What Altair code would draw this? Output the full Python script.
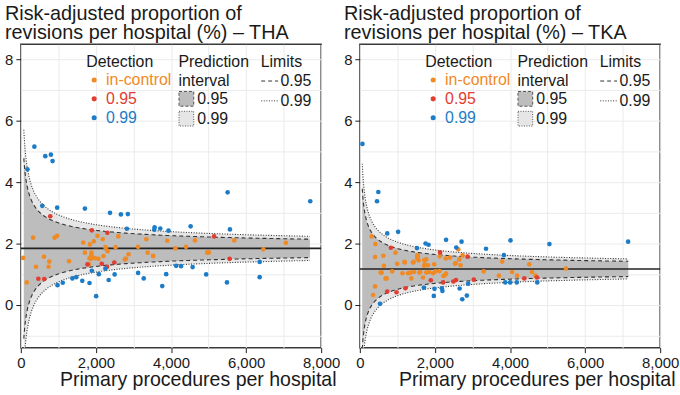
import altair as alt
import numpy as np
import pandas as pd

FONT = "Liberation Sans"
TEXT = "#1a1a1a"
ORANGE = "#F08A24"
RED = "#E23D2F"
BLUE = "#1C7CC7"
DARK_BAND = "#BDBDBD"
LIGHT_BAND = "#E6E6E6"

Y_MIN, Y_MAX = -1.4, 8.5
X_MAX = 8000

# ---------------- THA ----------------
tha_title = ["Risk-adjusted proportion of", "revisions per hospital (%) \u2013 THA"]
tha_center = 1.84
tha_n_span = (80, 7700)

tha_inctrl_n = [326, 898, 968, 1663, 1839, 1945, 2042, 2182, 2596, 3344, 3899, 4638,
                5685, 7058, 2253, 2525, 3124, 4118, 4400, 6460, 2297, 1707, 1883, 616,
                62, 1866, 2068, 2869, 3379, 3529, 4963, 5010, 2798, 158, 404, 757, 739,
                1285, 1830, 1901, 1980, 1813, 2315, 2772, 3520, 2200, 1874]
tha_inctrl_y = [2.19, 2.19, 2.25, 2.03, 1.97, 2.07, 2.25, 2.14, 2.23, 2.14, 2.09, 2.10,
                2.10, 2.02, 1.88, 1.88, 1.89, 1.84, 1.89, 1.81, 1.77, 1.70, 1.70, 1.57,
                1.53, 1.50, 1.50, 1.65, 1.70, 1.59, 1.70, 1.71, 1.51, 0.73, 1.24, 1.41, 1.24,
                1.42, 1.52, 1.57, 1.52, 1.32, 1.75, 1.48, 1.60, 1.59, 1.59]

tha_d95_n = [784, 1892, 2305, 5148, 5561, 467, 625, 1777, 2156, 2297, 2490]
tha_d95_y = [2.89, 2.43, 2.35, 2.23, 1.50, 0.85, 0.84, 1.32, 1.34, 1.24, 1.38]

tha_d99_n = [177, 361, 652, 801, 845, 572, 968, 1707, 2376, 2666, 2851, 2825, 3564,
             3555, 3714, 3934, 4523, 5509, 5570, 7709,
             977, 1117, 1373, 1478, 1637, 1830, 1892, 2006, 2077, 2253, 2341, 2499,
             3124, 3274, 3767, 3872, 4136, 4268, 4576, 4937, 5491, 6362, 6362]
tha_d99_y = [4.42, 5.16, 4.85, 4.90, 4.69, 3.23, 3.17, 3.14, 3.00, 2.95, 2.96, 2.48, 2.53,
             2.45, 2.49, 2.42, 2.56, 3.67, 2.46, 3.38,
             0.64, 0.72, 0.86, 0.90, 0.78, 0.71, 1.11, 0.28, 1.00, 1.18, 0.81, 0.99,
             1.04, 0.86, 0.61, 1.00, 1.27, 1.26, 1.23, 0.99, 0.73, 1.40, 0.90]

# ---------------- TKA ----------------
tka_title = ["Risk-adjusted proportion of", "revisions per hospital (%) \u2013 TKA"]
tka_center = 1.17
tka_n_span = (65, 7150)

tka_inctrl_n = [317, 414, 405, 625, 950, 1549, 2130, 405, 352, 642, 581, 713, 862,
                1135, 1196, 1285, 1373, 1417, 1443, 1540, 1566, 1610, 1716, 1813, 1848,
                1954, 2121, 2226, 2279, 2297, 2402, 2561, 2649, 2684, 3300, 3704, 3793,
                4057, 4189, 4514, 4586, 4681, 5491, 995, 1188, 1434, 1531, 1531, 1980,
                2289, 2534, 2622, 554, 686, 1681, 1355, 1584, 1769, 2015, 1716, 1769,
                1725, 2737]
tka_inctrl_y = [2.23, 1.98, 1.56, 1.60, 1.70, 1.59, 1.58, 0.60, 0.32, 1.27, 1.05, 0.86, 1.09,
                1.03, 1.38, 1.03, 0.86, 1.38, 1.07, 1.56, 1.45, 1.07, 1.27, 1.29, 1.07,
                1.03, 1.10, 0.94, 0.98, 1.02, 1.54, 1.36, 1.48, 1.29, 1.09, 0.95, 1.41,
                1.07, 0.95, 1.32, 1.07, 0.95, 1.18, 1.34, 1.40, 1.40, 1.61, 1.51, 1.32,
                1.51, 1.34, 1.81, 1.05, 0.86, 0.89, 1.05, 1.05, 1.05, 1.09, 1.46, 1.48,
                1.32, 1.61]

tka_d95_n = [827, 2138, 2869, 730, 977, 1214, 1890, 2218, 2490, 2561, 3036, 4382, 4718]
tka_d95_y = [1.86, 1.71, 1.57, 0.43, 0.41, 0.54, 0.80, 0.73, 0.76, 0.81, 0.82, 0.86, 0.89]

tka_d99_n = [70, 493, 458, 730, 1020, 1522, 1751, 1830, 2297, 2569, 2710, 3361, 3837,
             4013, 5051, 7146,
             537, 1707, 1971, 1989, 2183, 2200, 2658, 2728, 2851, 2886, 3872, 4005,
             4180, 4726]
tka_d99_y = [5.25, 3.68, 3.38, 2.33, 2.38, 1.85, 2.00, 1.96, 2.12, 1.87, 2.06, 1.83, 1.62,
             2.10, 1.98, 2.06,
             0.03, 0.56, 0.29, 0.52, 0.54, 0.45, 0.53, 0.18, 0.30, 0.69, 0.73, 0.73,
             0.73, 0.73]

DETECTION = ["in-control", "0.95", "0.99"]
PI_LEVELS = ["0.95", "0.99"]      # prediction interval levels (fill)
LIMIT_LEVELS = [0.95, 0.99]       # control limit levels (line dash)
Z = {0.95: 1.96, 0.99: 2.576}


def funnel(center_pct, n, z):
    p = center_pct / 100.0
    se = np.sqrt(p * (1 - p) / n) * 100.0
    return center_pct - z * se, center_pct + z * se


def panel(title, center, n_span, groups):
    pts = pd.concat(
        [pd.DataFrame({"n": n, "rate": y, "Detection": lab}) for lab, (n, y) in zip(DETECTION, groups)],
        ignore_index=True,
    )
    n_grid = np.geomspace(n_span[0], n_span[1], 240)
    bands, lines = [], []
    for pi_lab, lev in zip(PI_LEVELS, LIMIT_LEVELS):
        lo, hi = funnel(center, n_grid, Z[lev])
        bands.append(pd.DataFrame({"n": n_grid, "lo": lo, "hi": hi, "Prediction interval": pi_lab}))
        lines.append(pd.DataFrame({"n": n_grid, "v": hi, "Limits": lev, "side": "upper"}))
        lines.append(pd.DataFrame({"n": n_grid, "v": lo, "Limits": lev, "side": "lower"}))
    band_df = pd.concat(bands, ignore_index=True)
    line_df = pd.concat(lines, ignore_index=True)

    x_scale = alt.Scale(domain=[0, X_MAX], nice=False, zero=False)
    y_scale = alt.Scale(domain=[Y_MIN, Y_MAX], nice=False, zero=False)
    x_axis = alt.Axis(
        values=list(range(0, X_MAX + 1, 1000)),
        labelExpr="datum.value % 2000 == 0 ? format(datum.value, ',') : ''",
        tickColor=alt.expr("datum.value % 2000 == 0 ? '#1a1a1a' : 'transparent'"),
        labelFlush=False,
        title="Primary procedures per hospital",
        titleX=318, titleY=38, titleAlign="right", titleBaseline="alphabetic",
        titleAnchor="end",
    )
    y_axis = alt.Axis(
        orient="left",
        values=list(range(-1, 9)),
        labelExpr="datum.value % 2 == 0 ? datum.label : ''",
        tickColor=alt.expr("datum.value % 2 == 0 ? '#1a1a1a' : 'transparent'"),
        labels=True, ticks=True, labelOverlap=False,
        title="",
    )

    def X(field):
        return alt.X(field, scale=x_scale, axis=x_axis)

    def Y(field):
        return alt.Y(field, scale=y_scale, axis=y_axis)

    fill_legend = alt.Legend(
        title=["Prediction", "interval"], orient="none", legendX=159, legendY=10,
        symbolType="square", symbolSize=220, symbolStrokeColor="#555",
        symbolStrokeWidth=1, symbolOpacity=1, rowPadding=0,
        symbolDash=alt.expr("datum.label == '0.95' ? [3, 2] : [1, 1.5]"),
        titleLineHeight=19, labelOffset=3,
    )
    band_fill = alt.Fill(
        "Prediction interval:N",
        scale=alt.Scale(domain=PI_LEVELS, range=[DARK_BAND, LIGHT_BAND]),
        legend=fill_legend,
    )
    band99 = (
        alt.Chart(band_df[band_df["Prediction interval"] == "0.99"])
        .mark_area(clip=True, opacity=1, interpolate="monotone")
        .encode(x=X("n:Q"), y=Y("hi:Q"), y2="lo:Q", fill=band_fill)
    )
    band95 = (
        alt.Chart(band_df[band_df["Prediction interval"] == "0.95"])
        .mark_area(clip=True, opacity=1, interpolate="monotone")
        .encode(x=X("n:Q"), y=Y("hi:Q"), y2="lo:Q", fill=band_fill)
    )
    limits = (
        alt.Chart(line_df)
        .mark_line(clip=True, color="#333333", strokeWidth=1.1, interpolate="monotone")
        .encode(
            x=X("n:Q"),
            y=Y("v:Q"),
            detail="side:N",
            strokeDash=alt.StrokeDash(
                "Limits:O",
                scale=alt.Scale(domain=LIMIT_LEVELS, range=[[4, 3], [1, 1.6]]),
                legend=alt.Legend(
                    title="Limits", orient="none", legendX=242, legendY=10,
                    symbolType="stroke", symbolSize=289, symbolStrokeColor="#333",
                    symbolStrokeWidth=1, labelOffset=2, format=".2f",
                ),
            ),
        )
    )
    mid = (
        alt.Chart(pd.DataFrame({"c": [center]}))
        .mark_rule(color="#222222", strokeWidth=1.6)
        .encode(y=Y("c:Q"))
    )
    colors = {"in-control": ORANGE, "0.95": RED, "0.99": BLUE}
    label_expr = (
        f"datum.label == 'in-control' ? '{ORANGE}' : "
        f"(datum.label == '0.95' ? '{RED}' : '{BLUE}')"
    )
    dots = (
        alt.Chart(pts)
        .mark_circle(size=22, opacity=1)
        .encode(
            x=X("n:Q"),
            y=Y("rate:Q"),
            color=alt.Color(
                "Detection:N",
                scale=alt.Scale(domain=DETECTION, range=[colors[d] for d in DETECTION]),
                legend=alt.Legend(
                    title="Detection", orient="none", legendX=66, legendY=10,
                    symbolType="circle", symbolSize=26, symbolOpacity=1,
                    symbolStrokeWidth=0, labelOffset=4, symbolOffset=0,
                    labelColor=alt.expr(label_expr),
                ),
            ),
        )
    )
    return (
        alt.layer(band99, band95, limits, mid, dots)
        .properties(
            width=303, height=306,
            title=alt.TitleParams(text=title, anchor="start", frame="group", dx=-16),
        )
    )


left = panel(tha_title, tha_center, tha_n_span,
             [(tha_inctrl_n, tha_inctrl_y), (tha_d95_n, tha_d95_y), (tha_d99_n, tha_d99_y)])
right = panel(tka_title, tka_center, tka_n_span,
              [(tka_inctrl_n, tka_inctrl_y), (tka_d95_n, tka_d95_y), (tka_d99_n, tka_d99_y)])

chart = (
    alt.hconcat(left, right, spacing=1)
    .resolve_scale(color="independent", fill="independent", strokeDash="independent")
    .resolve_legend(color="independent", fill="independent", strokeDash="independent")
    .properties(padding={"left": 3, "top": 1, "right": 0, "bottom": 1})
    .configure(font=FONT)
    .configure_view(stroke="#3a3a3a", strokeWidth=1.5)
    .configure_axis(
        grid=True, gridColor="#ebebeb", gridWidth=1, domain=False,
        tickSize=5, tickWidth=1,
        labelFont=FONT, labelFontSize=15, labelColor=TEXT, labelPadding=3,
        titleFont=FONT, titleFontSize=19.7, titleFontWeight="normal", titleColor=TEXT,
    )
    .configure_legend(
        padding=0, labelFont=FONT, labelFontSize=16, labelColor=TEXT,
        titleFont=FONT, titleFontSize=16, titleFontWeight="normal", titleColor=TEXT,
        titlePadding=2, rowPadding=3, titleAnchor="start",
    )
    .configure_title(
        font=FONT, fontSize=20, fontWeight="normal", color=TEXT, lineHeight=20,
        offset=1, anchor="start",
    )
)

chart.save("out.html", embed_options={"renderer": "svg", "actions": False})
